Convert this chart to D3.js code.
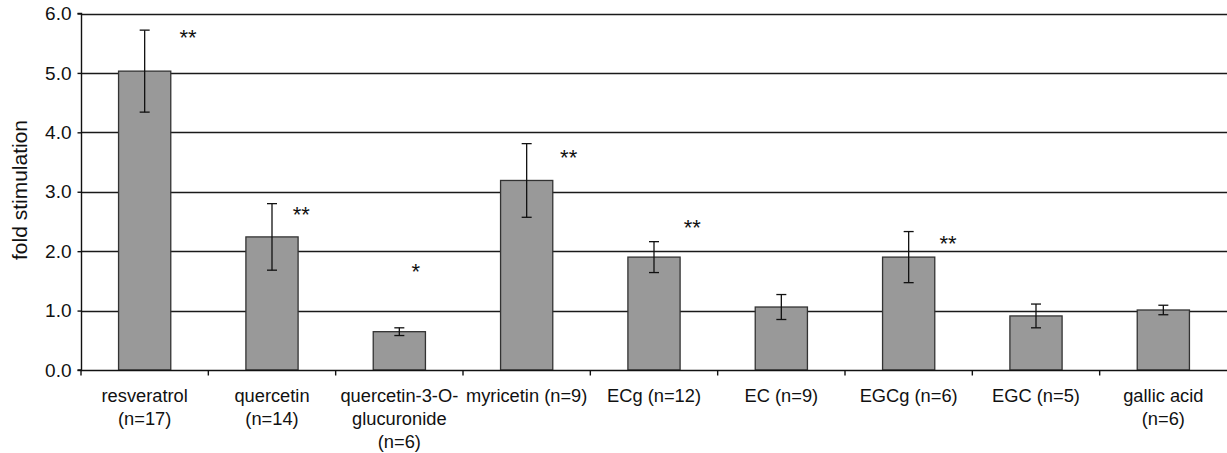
<!DOCTYPE html>
<html><head><meta charset="utf-8">
<script src="https://cdn.jsdelivr.net/npm/d3@7/dist/d3.min.js"></script>
<style>body{margin:0;background:#fff}svg{display:block}text{font-family:"Liberation Sans",Arial,sans-serif;fill:#111}</style>
</head><body><svg id="c" width="1227" height="453"></svg>
<script>
const categories = [
  ["resveratrol","(n=17)"],
  ["quercetin","(n=14)"],
  ["quercetin-3-O-","glucuronide","(n=6)"],
  ["myricetin (n=9)"],
  ["ECg (n=12)"],
  ["EC (n=9)"],
  ["EGCg (n=6)"],
  ["EGC (n=5)"],
  ["gallic acid","(n=6)"]
];
const values = [5.03, 2.24, 0.645, 3.19, 1.90, 1.06, 1.90, 0.91, 1.01];
const errors = [0.69, 0.56, 0.065, 0.62, 0.26, 0.21, 0.43, 0.20, 0.08];
const sigLabels = ["**", "**", "*", "**", "**", "", "**", "", ""];
const sigLevels = [5.62, 2.64, 1.68, 3.60, 2.42, 0, 2.15, 0, 0];
const sigShift = [0.34, 0.23, 0.13, 0.33, 0.30, 0, 0.31, 0, 0];
const yTicks = [0, 1, 2, 3, 4, 5, 6];

const svg = d3.select("#c");
const m = {l: 81, r: 0, t: 13.5, b: 83};
const W = 1227, H = 453;
const idx = categories.map((d, i) => i);
const x = d3.scaleBand().domain(idx).range([m.l, W - m.r]).paddingInner(0).paddingOuter(0);
const y = d3.scaleLinear().domain([0, 6]).range([H - m.b, m.t]);
const bw = x.bandwidth() * 0.41;
const cx = i => x(i) + x.bandwidth() / 2;
const FS = 19;

// gridlines
svg.append("g").selectAll("line").data(yTicks.filter(d => d > 0)).join("line")
  .attr("x1", m.l).attr("x2", W).attr("y1", d => Math.round(y(d)) + 0.5).attr("y2", d => Math.round(y(d)) + 0.5)
  .attr("stroke", "#1a1a1a").attr("stroke-width", 1.4);

// bars
svg.append("g").selectAll("rect").data(values).join("rect")
  .attr("x", (d, i) => cx(i) - bw / 2).attr("width", bw)
  .attr("y", d => y(d)).attr("height", d => y(0) - y(d))
  .attr("fill", "#999999").attr("stroke", "#333").attr("stroke-width", 1.3);

// error bars
const eg = svg.append("g").attr("stroke", "#111").attr("stroke-width", 1.3);
values.forEach((v, i) => {
  const c = cx(i), e = errors[i];
  eg.append("line").attr("x1", c).attr("x2", c).attr("y1", y(v + e)).attr("y2", y(v - e));
  eg.append("line").attr("x1", c - 5).attr("x2", c + 5).attr("y1", y(v + e)).attr("y2", y(v + e));
  eg.append("line").attr("x1", c - 5).attr("x2", c + 5).attr("y1", y(v - e)).attr("y2", y(v - e));
});

// significance
const SF = 22;
svg.append("g").selectAll("text").data(sigLabels).join("text")
  .attr("x", (d, i) => cx(i) + sigShift[i] * x.bandwidth())
  .attr("y", (d, i) => y(sigLevels[i]) + SF * 0.42)
  .attr("text-anchor", "middle").attr("font-size", SF).text(d => d);

// y axis
const ya = svg.append("g").attr("transform", `translate(${m.l + 0.5},0)`)
  .call(d3.axisLeft(y).tickValues(yTicks).tickFormat(d3.format(".1f")).tickSize(4).tickPadding(6));
ya.selectAll("text").attr("font-size", FS).attr("font-family", "Liberation Sans, Arial, sans-serif").attr("fill", "#111");
ya.selectAll("line,path").attr("stroke", "#111").attr("stroke-width", 1.4);
ya.select("path").attr("d", `M-4,${y(6)}H0V${y(0)}H-4`);

// x axis
const xa = svg.append("g").attr("transform", `translate(0,${Math.round(y(0)) + 0.5})`);
xa.append("line").attr("x1", m.l).attr("x2", W).attr("stroke", "#111").attr("stroke-width", 1.4);
xa.selectAll("line.tk").data(idx).join("line").attr("class", "tk")
  .attr("x1", i => x(i)).attr("x2", i => x(i)).attr("y1", 0).attr("y2", 5)
  .attr("stroke", "#111").attr("stroke-width", 1.4);
const lab = svg.append("g").selectAll("text").data(categories).join("text")
  .attr("text-anchor", "middle").attr("font-size", 18.3);
lab.each(function(lines, i) {
  d3.select(this).selectAll("tspan").data(lines).join("tspan")
    .attr("x", cx(i)).attr("y", (d, k) => 402 + k * 23).text(d => d);
});

// y title
svg.append("text").attr("transform", "translate(27,190) rotate(-90)")
  .attr("text-anchor", "middle").attr("font-size", 21).text("fold stimulation");
</script></body></html>
